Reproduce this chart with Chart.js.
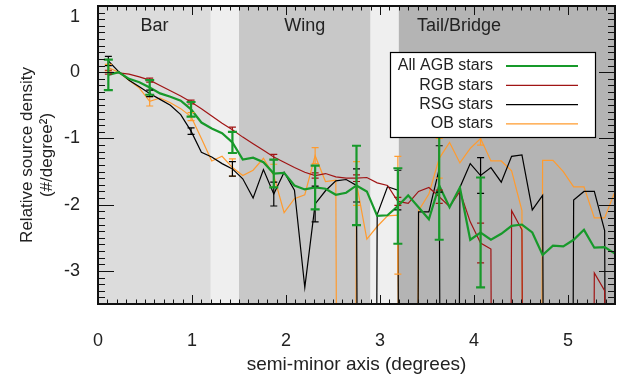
<!DOCTYPE html>
<html lang="en">
<head>
  <meta charset="UTF-8" />
  <title>Relative source density vs semi-minor axis</title>
  <script src="https://cdn.jsdelivr.net/npm/chart.js"></script>
  <style>
    body { margin: 0; background: #fff; }
    #wrap { width: 623px; height: 378px; }
  </style>
</head>
<body>
<div id="wrap"><canvas id="chart" width="623" height="378"></canvas></div>
<script>
  // bin centres along the semi-minor axis (degrees)
  const semiMinor = [0.11, 0.22, 0.33, 0.44, 0.55, 0.66, 0.77, 0.88, 0.99, 1.10,
                     1.21, 1.32, 1.43, 1.54, 1.65, 1.76, 1.87, 1.98, 2.09, 2.20,
                     2.31, 2.42, 2.53, 2.64, 2.75, 2.86, 2.97, 3.08, 3.19, 3.30,
                     3.41, 3.52, 3.63, 3.74, 3.85, 3.96, 4.07, 4.18, 4.29, 4.40,
                     4.51, 4.62, 4.73, 4.84, 4.95, 5.06, 5.17, 5.28, 5.39, 5.50];

  // empty bins (log of zero) fall off the bottom of the plot
  const E = -40;

  const agbDensity = [-0.04, 0.00, -0.10, -0.15, -0.23, -0.32, -0.37, -0.43, -0.56, -0.76,
                      -0.85, -0.92, -1.06, -1.32, -1.29, -1.36, -1.53, -1.52, -1.71, -1.77,
                      -1.74, -1.76, -1.85, -1.82, -1.71, -1.80, -2.17, -2.16, -2.02, -1.86,
                      -2.04, -2.22, -1.71, -2.04, -1.74, -2.53, -2.42, -2.53, -2.44, -2.32,
                      -2.30, -2.42, -2.76, -2.62, -2.63, -2.53, -2.38, -2.65, -2.64, -2.74];
  const rgbDensity = [0.00, -0.01, -0.03, -0.07, -0.12, -0.20, -0.28, -0.36, -0.45, -0.55,
                      -0.66, -0.77, -0.87, -0.98, -1.08, -1.18, -1.28, -1.36, -1.44, -1.51,
                      -1.56, -1.53, -1.58, -1.60, -1.60, -1.59, -1.67, -1.71, -1.95, -1.98,
                      -1.80, -1.74, -1.88, -2.03, -1.80, -2.26, -2.58, -2.67, E, -2.09,
                      -2.38, E, E, E, E, E, E, -3.03, -3.30, E];
  const rsgDensity = [0.17, 0.01, -0.12, -0.22, -0.32, -0.41, -0.50, -0.64, -0.89, -1.21,
                      -1.28, -1.38, -1.46, -1.61, -1.90, -1.47, -1.84, -1.51, -1.78, -3.25,
                      -1.99, -1.79, -1.64, -1.62, -1.71, E, -2.15, -1.73, -1.78, E,
                      -2.11, -2.11, -1.46, E, -1.74, -1.38, -1.56, -1.44, -1.66, -1.27,
                      -1.25, -2.08, -1.86, E, E, -1.93, -1.80, -1.80, -2.39, E];
  const obDensity = [0.07, 0.00, -0.12, -0.24, -0.44, -0.39, -0.46, -0.55, -0.67, -1.00,
                     -1.34, -1.27, -1.44, -1.56, -1.48, -1.30, -1.56, -2.12, -1.91, -1.85,
                     -1.26, -1.65, -1.63, E, -1.68, -2.52, -2.33, -2.17, -2.16, E,
                     -2.09, -1.84, -1.30, -1.06, -1.37, -1.15, -1.00, -1.34, -1.34, -1.49,
                     -2.09, E, -1.33, -1.33, -1.50, -1.73, -1.73, -2.20, -2.20, -1.80];

  // error bars are plotted on every fourth bin
  const errIndex = [0, 4, 8, 12, 16, 20, 24, 28, 32, 36];
  const agbErr = [0.23, 0.11, 0.11, 0.16, 0.21, 0.33, 0.60, 0.57, 0.82, 0.83];
  const rgbErr = [0.03, 0.03, 0.03, 0.04, 0.04, 0.04, 0.05, 0.06, 0.10, 0.30];
  const rsgErr = [0.07, 0.05, 0.05, 0.11, 0.18, 0.27, 0.25, 0.30, 0.35, 0.27];
  const obErr = [0.05, 0.07, 0.06, 0.13, 0.17, 0.12, 0.33, 0.89, 0.30, 0.10];

  const seriesNames = ['All AGB stars', 'RGB stars', 'RSG stars', 'OB stars'];

  // regions of the galaxy along the axis
  const regionEdges = [0, 1.2, 1.5, 2.9, 3.2, 5.5];
  const regionNames = ['Bar', '', 'Wing', '', 'Tail/Bridge'];

  const xTicks = [0, 1, 2, 3, 4, 5];
  const yTicks = [-3, -2, -1, 0, 1];

  const regionShades = ['#dcdcdc', '#efefef', '#c8c8c8', '#efefef', '#b4b4b4'];
  const regionLabelShift = [0, 0, 0, 0, -48];
  const FONT = '"Liberation Sans", Arial, sans-serif';

  function points(values) {
    return values.map((v, i) => ({ x: semiMinor[i], y: v }));
  }

  const regionsPlugin = {
    id: 'regions',
    beforeDatasetsDraw(chart) {
      const { ctx, chartArea, scales } = chart;
      ctx.save();
      for (let k = 0; k < regionShades.length; k++) {
        const x0 = scales.x.getPixelForValue(regionEdges[k]);
        const x1 = scales.x.getPixelForValue(regionEdges[k + 1]);
        ctx.fillStyle = regionShades[k];
        ctx.fillRect(x0, chartArea.top, x1 - x0, chartArea.bottom - chartArea.top);
      }
      ctx.fillStyle = '#222';
      ctx.font = '18px ' + FONT;
      ctx.textAlign = 'center';
      ctx.textBaseline = 'middle';
      for (let k = 0; k < regionNames.length; k++) {
        if (!regionNames[k]) continue;
        const mid = (regionEdges[k] + regionEdges[k + 1]) / 2;
        ctx.fillText(regionNames[k], scales.x.getPixelForValue(mid) + regionLabelShift[k], chartArea.top + 20);
      }
      ctx.restore();
    }
  };

  const errorBarPlugin = {
    id: 'errorBars',
    afterDatasetsDraw(chart) {
      const { ctx, chartArea, scales } = chart;
      ctx.save();
      ctx.beginPath();
      ctx.rect(chartArea.left, chartArea.top, chartArea.right - chartArea.left, chartArea.bottom - chartArea.top);
      ctx.clip();
      for (let d = chart.data.datasets.length - 1; d >= 0; d--) {
        const ds = chart.data.datasets[d];
        ctx.strokeStyle = ds.borderColor;
        ctx.lineWidth = ds.borderWidth;
        const cap = ds.borderWidth > 1.5 ? 4.5 : 3.5;
        errIndex.forEach((i, k) => {
          const v = ds.data[i].y;
          if (v === E) return;
          const x = scales.x.getPixelForValue(semiMinor[i]);
          const yt = scales.y.getPixelForValue(v + ds.errors[k]);
          const yb = scales.y.getPixelForValue(v - ds.errors[k]);
          ctx.beginPath();
          ctx.moveTo(x, yt); ctx.lineTo(x, yb);
          ctx.moveTo(x - cap, yt); ctx.lineTo(x + cap, yt);
          ctx.moveTo(x - cap, yb); ctx.lineTo(x + cap, yb);
          ctx.stroke();
        });
      }
      ctx.restore();
    }
  };

  const framePlugin = {
    id: 'frame',
    afterDraw(chart) {
      const { ctx, chartArea: a, scales } = chart;
      ctx.save();
      ctx.strokeStyle = '#111';
      ctx.lineWidth = 1;
      ctx.beginPath();
      // minor ticks every 0.1, major ones on the labelled values
      for (let n = 0; n <= 55; n++) {
        const x = Math.round(scales.x.getPixelForValue(n / 10)) + 0.5;
        const len = n % 10 === 0 ? 9 : 4.5;
        ctx.moveTo(x, a.bottom); ctx.lineTo(x, a.bottom - len);
        ctx.moveTo(x, a.top); ctx.lineTo(x, a.top + len);
      }
      for (let n = -35; n <= 10; n++) {
        const y = Math.round(scales.y.getPixelForValue(n / 10)) + 0.5;
        const len = n % 10 === 0 ? 16 : 7;
        ctx.moveTo(a.left, y); ctx.lineTo(a.left + len, y);
        ctx.moveTo(a.right, y); ctx.lineTo(a.right - len, y);
      }
      ctx.stroke();
      ctx.lineWidth = 2;
      ctx.strokeRect(a.left, a.top, a.right - a.left, a.bottom - a.top);

      // legend box
      const bx = 390, by = 52, bw = 205, bh = 85;
      ctx.fillStyle = '#fff';
      ctx.fillRect(bx, by, bw, bh);
      ctx.lineWidth = 1.2;
      ctx.strokeStyle = '#000';
      ctx.strokeRect(bx + 0.5, by + 0.5, bw, bh);
      ctx.font = '16px ' + FONT;
      ctx.textAlign = 'right';
      ctx.textBaseline = 'middle';
      chart.data.datasets.forEach((ds, k) => {
        const y = by + 14 + k * 19.3;
        ctx.fillStyle = '#222';
        ctx.fillText(ds.label, bx + 103, y);
        ctx.strokeStyle = ds.borderColor;
        ctx.lineWidth = ds.borderWidth;
        ctx.beginPath();
        ctx.moveTo(bx + 116, y); ctx.lineTo(bx + 188, y);
        ctx.stroke();
      });
      ctx.restore();
    }
  };

  new Chart(document.getElementById('chart'), {
    type: 'line',
    data: {
      datasets: [
        { label: seriesNames[0], data: points(agbDensity), errors: agbErr, borderColor: '#17992a', borderWidth: 2.2 },
        { label: seriesNames[1], data: points(rgbDensity), errors: rgbErr, borderColor: '#a01414', borderWidth: 1.2 },
        { label: seriesNames[2], data: points(rsgDensity), errors: rsgErr, borderColor: '#000000', borderWidth: 1.2 },
        { label: seriesNames[3], data: points(obDensity), errors: obErr, borderColor: '#ff9b2e', borderWidth: 1.2 }
      ]
    },
    options: {
      responsive: false,
      animation: false,
      layout: { padding: { top: 6, right: 8, left: 0, bottom: 0 } },
      datasets: { line: { pointRadius: 0, tension: 0, clip: 0, fill: false } },
      plugins: { legend: { display: false }, tooltip: { enabled: false } },
      scales: {
        x: {
          type: 'linear',
          min: 0,
          max: 5.5,
          afterBuildTicks: s => { s.ticks = xTicks.map(v => ({ value: v })); },
          afterFit: s => { s.height = 74; s.paddingLeft = 0; s.paddingRight = 0; },
          grid: { display: false },
          border: { display: false },
          ticks: { padding: 18, color: '#222', font: { size: 18, family: FONT }, callback: v => String(v) },
          title: {
            display: true,
            text: 'semi-minor axis (degrees)',
            color: '#222',
            font: { size: 19, family: FONT },
            padding: { top: 0, bottom: 2 }
          }
        },
        y: {
          min: -3.5,
          max: 1,
          afterBuildTicks: s => { s.ticks = yTicks.map(v => ({ value: v })); },
          afterFit: s => { s.width = 98; s.paddingTop = 0; s.paddingBottom = 0; },
          grid: { display: false },
          border: { display: false },
          ticks: {
            padding: 10, color: '#222', font: { size: 18, family: FONT },
            // the top label sits just inside the frame
            callback: v => (v === yTicks[yTicks.length - 1] ? ['', String(v)] : String(v))
          },
          title: {
            display: true,
            text: ['Relative source density', '(#/degree\u00B2)'],
            color: '#222',
            font: { size: 17, family: FONT, lineHeight: 1.2 },
            padding: { top: 17, bottom: 0 }
          }
        }
      }
    },
    plugins: [regionsPlugin, errorBarPlugin, framePlugin]
  });
</script>
</body>
</html>
